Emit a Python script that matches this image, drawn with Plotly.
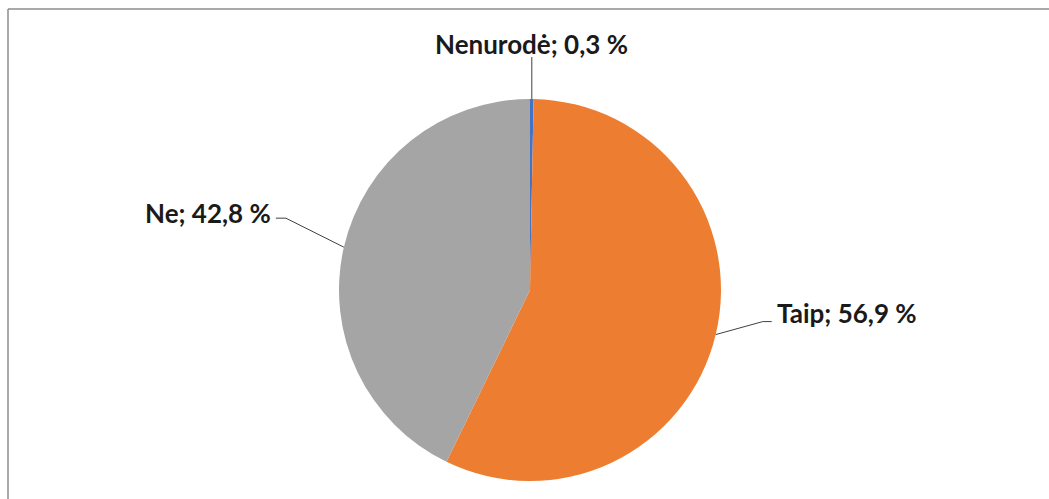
import math
import plotly.graph_objects as go

# Survey answers, in drawing order (clockwise from 12 o'clock)
labels = ["Nenurodė", "Taip", "Ne"]
values = [0.3, 56.9, 42.8]
colors = ["#4472C4", "#ED7D31", "#A5A5A5"]

W, H = 1049, 499
cx, cy, r = 530, 290, 191  # pie centre and radius in pixels

# Label text anchor offsets relative to the slice edge point, plus leader elbow
label_layout = {
    "Nenurodė": dict(text_dx=0, text_dy=-55, elbow=[(0, -42)], xanchor="center"),
    "Taip": dict(text_dx=59, text_dy=-22, elbow=[(47, -13), (56, -13)], xanchor="left"),
    "Ne": dict(text_dx=-71, text_dy=-34, elbow=[(-58, -29), (-68, -29)], xanchor="right"),
}

fig = go.Figure(
    go.Pie(
        labels=labels,
        values=values,
        sort=False,
        direction="clockwise",
        rotation=0,
        marker=dict(colors=colors, line=dict(width=0)),
        textinfo="none",
        hoverinfo="label+percent",
        showlegend=False,
        domain=dict(
            x=[(cx - r) / W, (cx + r) / W],
            y=[(H - cy - r) / H, (H - cy + r) / H],
        ),
    )
)


def px(x, y):
    return x / W, 1 - y / H


shapes = []
annotations = []
total = sum(values)
cum = 0.0
for lab, val in zip(labels, values):
    mid = (cum + val / 2) / total * 2 * math.pi
    cum += val
    ex = cx + r * math.sin(mid)
    ey = cy - r * math.cos(mid)
    spec = label_layout[lab]
    pts = [(ex, ey)] + [(ex + dx, ey + dy) for dx, dy in spec["elbow"]]
    for (x0, y0), (x1, y1) in zip(pts[:-1], pts[1:]):
        a0, b0 = px(x0, y0)
        a1, b1 = px(x1, y1)
        shapes.append(dict(type="line", xref="paper", yref="paper",
                           x0=a0, y0=b0, x1=a1, y1=b1,
                           line=dict(color="#404040", width=1)))
    tx, ty = px(ex + spec["text_dx"], ey + spec["text_dy"])
    pct = f"{val:.1f}".replace(".", ",")
    annotations.append(dict(
        x=tx, y=ty, xref="paper", yref="paper",
        text=f"<b>{lab}; {pct} %</b>", showarrow=False,
        xanchor=spec["xanchor"], yanchor="middle",
        font=dict(family="Lato", size=26, color="#1a1a1a"),
    ))

# Chart frame: top and left edges
shapes.append(dict(type="line", xref="paper", yref="paper",
                   x0=8 / W, y0=1 - 9 / H, x1=1, y1=1 - 9 / H,
                   line=dict(color="#8c8c8c", width=1.5)))
shapes.append(dict(type="line", xref="paper", yref="paper",
                   x0=8 / W, y0=1 - 9 / H, x1=8 / W, y1=0,
                   line=dict(color="#8c8c8c", width=1.5)))

fig.update_layout(
    width=W, height=H,
    margin=dict(l=0, r=0, t=0, b=0),
    paper_bgcolor="white",
    plot_bgcolor="white",
    shapes=shapes,
    annotations=annotations,
)

fig.write_html("out.html")
